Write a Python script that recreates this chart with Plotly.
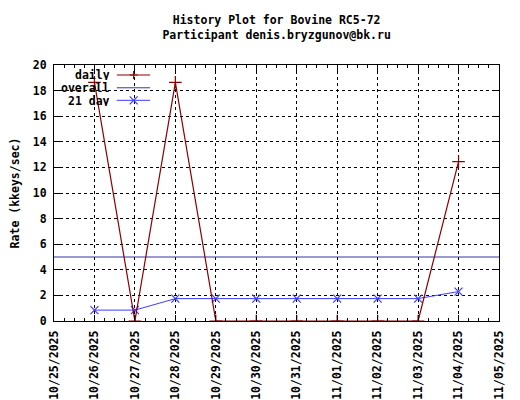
import plotly.graph_objects as go

# History data
dates = ["2025-10-26", "2025-10-27", "2025-10-28", "2025-10-29", "2025-10-30",
         "2025-10-31", "2025-11-01", "2025-11-02", "2025-11-03", "2025-11-04"]
daily = [18.65, 0, 18.65, 0, 0, 0, 0, 0, 0, 12.45]
avg21 = [0.85, 0.85, 1.75, 1.75, 1.75, 1.75, 1.75, 1.75, 1.75, 2.3]
overall_dates = ["2025-10-25", "2025-11-05"]
overall = [5, 5]

legend_names = ["daily", "overall", "21 day"]

RED = "#8b0000"
NAVY = "#3535a8"
BLUE = "#3c3cff"
FONT = dict(family="DejaVu Sans Mono", size=11.5, color="black", weight="bold")

fig = go.Figure()
fig.add_trace(go.Scatter(x=overall_dates, y=overall, mode="lines",
                         line=dict(color=NAVY, width=1), name="overall"))
fig.add_trace(go.Scatter(x=dates, y=avg21, mode="lines+markers",
                         line=dict(color=BLUE, width=1),
                         marker=dict(symbol="x-thin", size=8, line=dict(color=BLUE, width=1.2)),
                         name="21 day"))
fig.add_trace(go.Scatter(x=dates, y=daily, mode="lines+markers",
                         line=dict(color=RED, width=1.2),
                         marker=dict(symbol="cross-thin", size=9, line=dict(color=RED, width=1.2)),
                         name="daily"))

# gnuplot-style key: text right-aligned, sample line to the right
shapes = []
annotations = []
rows = [0.961, 0.911, 0.862]
cols = [RED, NAVY, BLUE]
for name, yy, c in zip(legend_names, rows, cols):
    annotations.append(dict(text=name, x=0.130, y=yy, xref="paper", yref="paper",
                            xanchor="right", yanchor="middle", showarrow=False,
                            height=11, font=FONT))
    shapes.append(dict(type="line", xref="paper", yref="paper", x0=0.141, x1=0.216,
                       y0=yy, y1=yy, line=dict(color=c, width=1.2 if c == RED else 1)))
shapes.append(dict(type="path", xref="paper", yref="paper", xsizemode="pixel",
                   ysizemode="pixel", xanchor=0.179, yanchor=rows[0],
                   path="M-4,0 H4 M0,-4 V4", line=dict(color=RED, width=1.2)))
shapes.append(dict(type="path", xref="paper", yref="paper", xsizemode="pixel",
                   ysizemode="pixel", xanchor=0.179, yanchor=rows[2],
                   path="M-4,-4 L4,4 M-4,4 L4,-4", line=dict(color=BLUE, width=1.2)))

axis_common = dict(showline=True, linecolor="black", linewidth=1,
                   mirror="allticks", ticks="inside", ticklen=6, tickcolor="black",
                   showgrid=True, gridcolor="black", griddash="dot", gridwidth=1,
                   zeroline=False, ticklabelstandoff=4, automargin=False,
                   layer="above traces")

fig.update_layout(
    width=520, height=400,
    margin=dict(l=54, r=21, t=65, b=79),
    paper_bgcolor="white", plot_bgcolor="white",
    showlegend=False,
    font=FONT,
    title=dict(text="History Plot for Bovine RC5-72<br>Participant denis.bryzgunov@bk.ru",
               x=0.532, xanchor="center", y=0.94, yanchor="top", yref="container",
               font=FONT),
    shapes=shapes, annotations=annotations,
    xaxis=dict(type="date", range=["2025-10-25", "2025-11-05"],
               tick0="2025-10-25", dtick=86400000, tickformat="%m/%d/%Y",
               tickangle=-90,
               minor=dict(ticks="inside", dtick=21600000, ticklen=3,
                          tickcolor="black", showgrid=False),
               **axis_common),
    yaxis=dict(range=[0, 20], dtick=2,
               title=dict(text="Rate (kkeys/sec)", standoff=10, font=FONT),
               **axis_common),
)

fig.write_html("out.html", config={"displayModeBar": False},
               post_script="document.body.style.margin='0';")
